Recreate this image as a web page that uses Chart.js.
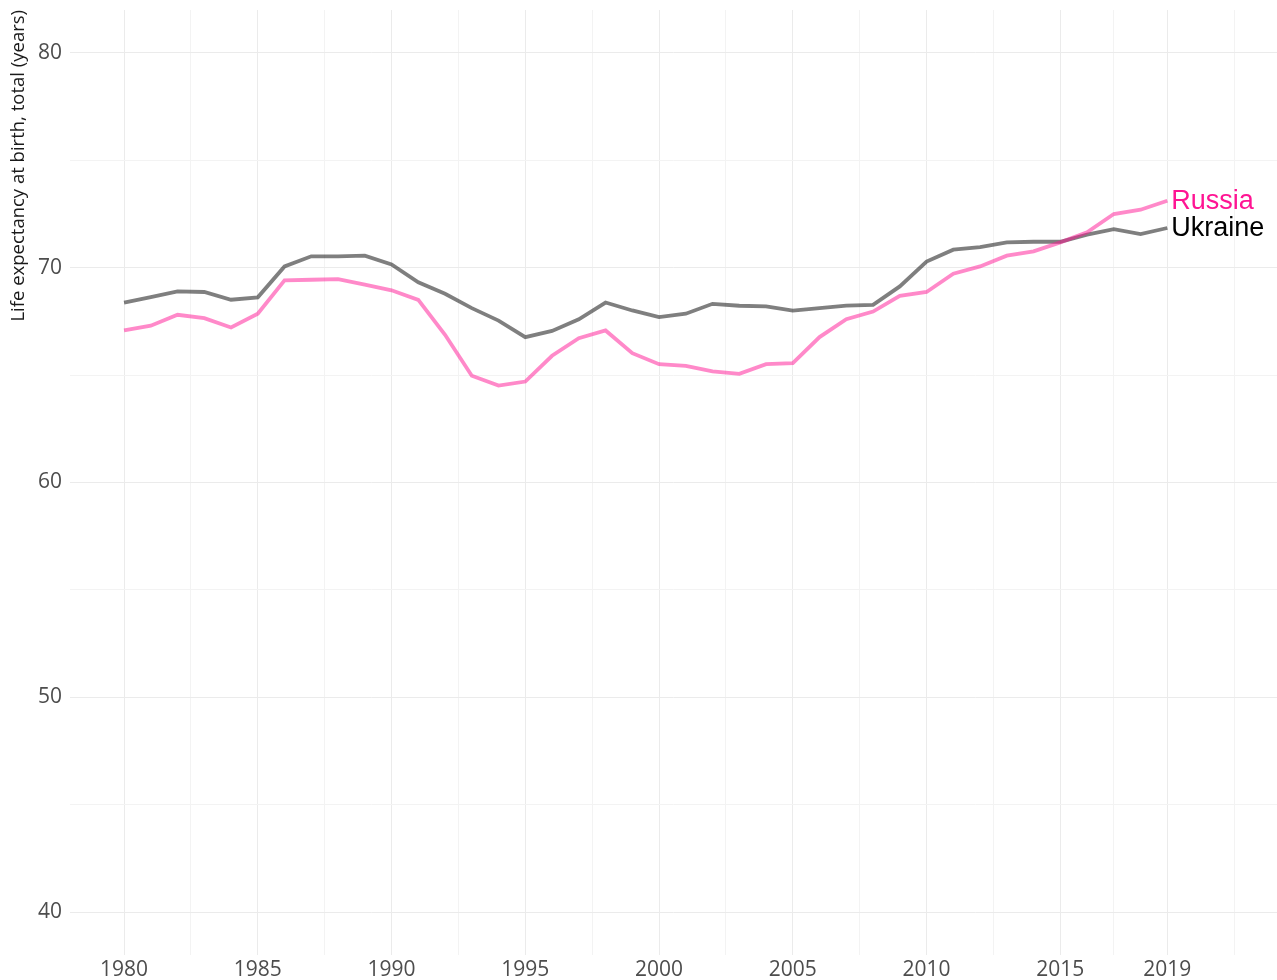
<!DOCTYPE html>
<html>
<head>
<meta charset="utf-8">
<script src="https://cdn.jsdelivr.net/npm/chart.js@4.4.1/dist/chart.umd.min.js"></script>
<style>
html, body { margin: 0; padding: 0; background: #ffffff; }
#wrap { width: 1277px; height: 980px; }
</style>
</head>
<body>
<div id="wrap"><canvas id="c" width="1277" height="980"></canvas></div>
<script>
const years = [1980, 1981, 1982, 1983, 1984, 1985, 1986, 1987, 1988, 1989,
               1990, 1991, 1992, 1993, 1994, 1995, 1996, 1997, 1998, 1999,
               2000, 2001, 2002, 2003, 2004, 2005, 2006, 2007, 2008, 2009,
               2010, 2011, 2012, 2013, 2014, 2015, 2016, 2017, 2018, 2019];

const russia = [67.08, 67.30, 67.81, 67.65, 67.22, 67.86, 69.41, 69.44, 69.47, 69.21,
                68.95, 68.50, 66.88, 64.97, 64.51, 64.70, 65.90, 66.72, 67.08, 66.02,
                65.51, 65.43, 65.17, 65.06, 65.51, 65.56, 66.77, 67.60, 67.96, 68.69,
                68.87, 69.72, 70.06, 70.56, 70.76, 71.18, 71.65, 72.50, 72.70, 73.12];

const ukraine = [68.38, 68.63, 68.90, 68.87, 68.51, 68.62, 70.06, 70.53, 70.53, 70.56,
                 70.15, 69.32, 68.79, 68.12, 67.54, 66.77, 67.06, 67.60, 68.38, 68.01,
                 67.70, 67.86, 68.32, 68.23, 68.20, 68.00, 68.12, 68.24, 68.27, 69.13,
                 70.29, 70.84, 70.96, 71.18, 71.21, 71.21, 71.54, 71.80, 71.57, 71.85];

const seriesNames = ["Russia", "Ukraine"];
const xMajorTicks = [1980, 1985, 1990, 1995, 2000, 2005, 2010, 2015, 2019];
const xMinorTicks = [1982.5, 1987.5, 1992.5, 1997.5, 2002.5, 2007.5, 2012.5, 2017, 2021.5];
const yMajorTicks = [40, 50, 60, 70, 80];
const yMinorTicks = [45, 55, 65, 75];
const yTitle = "Life expectancy at birth, total (years)";

const toPoints = (vals) => years.map((y, i) => ({ x: y, y: vals[i] }));

const labelColors = ["#ff1493", "#000000"];

const endLabels = {
  id: 'endLabels',
  afterDatasetsDraw(chart) {
    const ctx = chart.ctx;
    ctx.save();
    ctx.font = '27px "Liberation Sans", Arial, sans-serif';
    ctx.textAlign = 'left';
    ctx.textBaseline = 'middle';
    chart.data.datasets.forEach((ds, i) => {
      const meta = chart.getDatasetMeta(i);
      const last = meta.data[meta.data.length - 1];
      ctx.fillStyle = labelColors[i];
      ctx.fillText(ds.label, last.x + 4, last.y + 1);
    });
    ctx.restore();
  }
};

const majorX = new Set(xMajorTicks);
const majorY = new Set(yMajorTicks);

new Chart(document.getElementById('c'), {
  type: 'line',
  data: {
    datasets: [
      {
        label: seriesNames[0],
        data: toPoints(russia),
        borderColor: 'rgba(255,20,147,0.5)',
        borderWidth: 3.8,
        pointRadius: 0,
        tension: 0,
        fill: false
      },
      {
        label: seriesNames[1],
        data: toPoints(ukraine),
        borderColor: 'rgba(0,0,0,0.5)',
        borderWidth: 3.8,
        pointRadius: 0,
        tension: 0,
        fill: false
      }
    ]
  },
  options: {
    responsive: false,
    animation: false,
    layout: { padding: { top: 10, right: 0, left: 0, bottom: 0 } },
    plugins: {
      legend: { display: false },
      tooltip: { enabled: false }
    },
    scales: {
      x: {
        type: 'linear',
        min: 1977.98,
        max: 2023.1,
        afterBuildTicks: (scale) => {
          scale.ticks = xMajorTicks.concat(xMinorTicks).sort((a, b) => a - b).map(v => ({ value: v }));
        },
        afterFit: (scale) => { scale.height = 25; scale.paddingLeft = 0; scale.paddingRight = 0; },
        border: { display: false },
        grid: {
          drawTicks: false,
          color: (c) => (c.tick && majorX.has(c.tick.value)) ? '#ebebeb' : '#f3f3f3',
          lineWidth: 1
        },
        ticks: {
          autoSkip: false,
          maxRotation: 0,
          minRotation: 0,
          padding: 2,
          color: '#4d4d4d',
          font: { family: '"Open Sans", sans-serif', size: 21 },
          callback: (v) => majorX.has(v) ? String(v) : ''
        }
      },
      y: {
        type: 'linear',
        min: 38,
        max: 82,
        afterBuildTicks: (scale) => {
          scale.ticks = yMajorTicks.concat(yMinorTicks).sort((a, b) => a - b).map(v => ({ value: v }));
        },
        afterFit: (scale) => { scale.width = 70; scale.paddingTop = 0; scale.paddingBottom = 0; },
        border: { display: false },
        grid: {
          drawTicks: false,
          color: (c) => (c.tick && majorY.has(c.tick.value)) ? '#ebebeb' : '#f3f3f3',
          lineWidth: 1
        },
        title: {
          display: true,
          text: yTitle,
          align: 'end',
          color: '#1a1a1a',
          font: { family: '"Open Sans", sans-serif', size: 18.5 },
          padding: { top: 8, bottom: 0 }
        },
        ticks: {
          autoSkip: false,
          padding: 8,
          color: '#4d4d4d',
          font: { family: '"Open Sans", sans-serif', size: 21 },
          callback: (v) => majorY.has(v) ? String(v) : ''
        }
      }
    }
  },
  plugins: [endLabels]
});
</script>
</body>
</html>
